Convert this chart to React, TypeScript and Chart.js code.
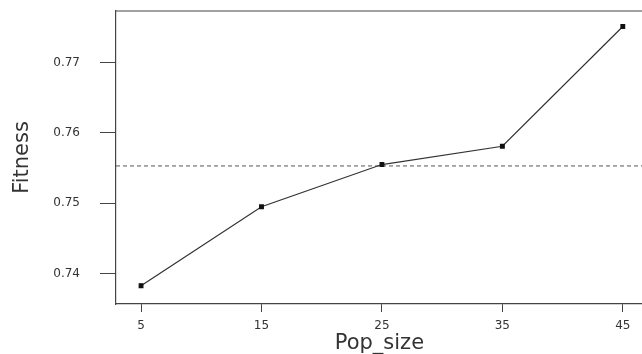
import React, { useEffect, useRef } from "react";
import { Chart, registerables } from "chart.js";

Chart.register(...registerables);

const popSizes = [5, 15, 25, 35, 45];
const fitness = [0.7383, 0.7495, 0.7555, 0.7581, 0.7751];
const xTicks = [5, 15, 25, 35, 45];
const yTicks = [0.74, 0.75, 0.76, 0.77];
const xRange = [2.92, 46.66];
const yRange = [0.7357, 0.7773];

const meanLinePlugin = {
  id: "meanLine",
  beforeDatasetsDraw(chart: any) {
    const { ctx, chartArea, scales } = chart;
    const mean = fitness.reduce((a, b) => a + b, 0) / fitness.length;
    const y = scales.y.getPixelForValue(mean);
    ctx.save();
    ctx.strokeStyle = "#555";
    ctx.lineWidth = 1;
    ctx.setLineDash([4, 3]);
    ctx.beginPath();
    ctx.moveTo(chartArea.left, y);
    ctx.lineTo(chartArea.right, y);
    ctx.stroke();
    ctx.restore();
    ctx.save();
    ctx.strokeStyle = "#444";
    ctx.lineWidth = 1.2;
    ctx.beginPath();
    ctx.moveTo(chartArea.left, chartArea.top);
    ctx.lineTo(chartArea.right, chartArea.top);
    ctx.stroke();
    ctx.restore();
  },
};

const zeroPad = (s: any) => {
  s.paddingTop = 0;
  s.paddingBottom = 0;
  s.paddingLeft = 0;
  s.paddingRight = 0;
};

export default function App() {
  const ref = useRef<HTMLCanvasElement>(null);
  useEffect(() => {
    if (!ref.current) return;
    const chart = new Chart(ref.current, {
      type: "line",
      data: {
        datasets: [
          {
            data: popSizes.map((x, i) => ({ x, y: fitness[i] })),
            borderColor: "#333",
            borderWidth: 1.2,
            pointStyle: "rect",
            pointRadius: 2.6,
            pointBackgroundColor: "#111",
            pointBorderColor: "#111",
            tension: 0,
          },
        ],
      },
      options: {
        animation: false,
        responsive: false,
        layout: { padding: { top: 11, right: 0, left: 0, bottom: 0 } },
        plugins: { legend: { display: false }, tooltip: { enabled: false } },
        scales: {
          x: {
            type: "linear",
            min: xRange[0],
            max: xRange[1],
            afterBuildTicks: (s: any) => {
              s.ticks = xTicks.map((v) => ({ value: v }));
            },
            afterFit: (s: any) => {
              s.height = 50;
              zeroPad(s);
            },
            grid: { drawOnChartArea: false, tickLength: 8, color: "#444", tickWidth: 1 },
            border: { color: "#444", width: 1.2 },
            ticks: {
              color: "#333",
              font: { family: "DejaVu Sans", size: 12 },
              padding: 7,
              maxRotation: 0,
              callback: (v: any) => String(v),
            },
            title: {
              display: true,
              text: "Pop_size",
              color: "#333",
              font: { family: "DejaVu Sans", size: 21, lineHeight: 1 },
              padding: { top: 0, bottom: 0 },
            },
          },
          y: {
            type: "linear",
            min: yRange[0],
            max: yRange[1],
            afterBuildTicks: (s: any) => {
              s.ticks = yTicks.map((v) => ({ value: v }));
            },
            afterFit: (s: any) => {
              s.width = 116;
              zeroPad(s);
            },
            grid: { drawOnChartArea: false, tickLength: 16, color: "#444", tickWidth: 1 },
            border: { color: "#444", width: 1.2 },
            ticks: {
              color: "#333",
              font: { family: "DejaVu Sans", size: 12 },
              padding: 20,
              callback: (v: any) => Number(v).toFixed(2),
            },
            title: {
              display: true,
              text: "Fitness",
              color: "#333",
              font: { family: "DejaVu Sans", size: 21, lineHeight: 1 },
              padding: { top: 12, bottom: 0 },
            },
          },
        },
      },
      plugins: [meanLinePlugin],
    });
    return () => chart.destroy();
  }, []);
  return (
    <div
      style={{
        position: "fixed",
        left: 0,
        top: 0,
        width: 642,
        height: 354,
        overflow: "hidden",
        background: "#fff",
      }}
    >
      <canvas ref={ref} width={648} height={354} style={{ width: 648, height: 354 }} />
    </div>
  );
}
